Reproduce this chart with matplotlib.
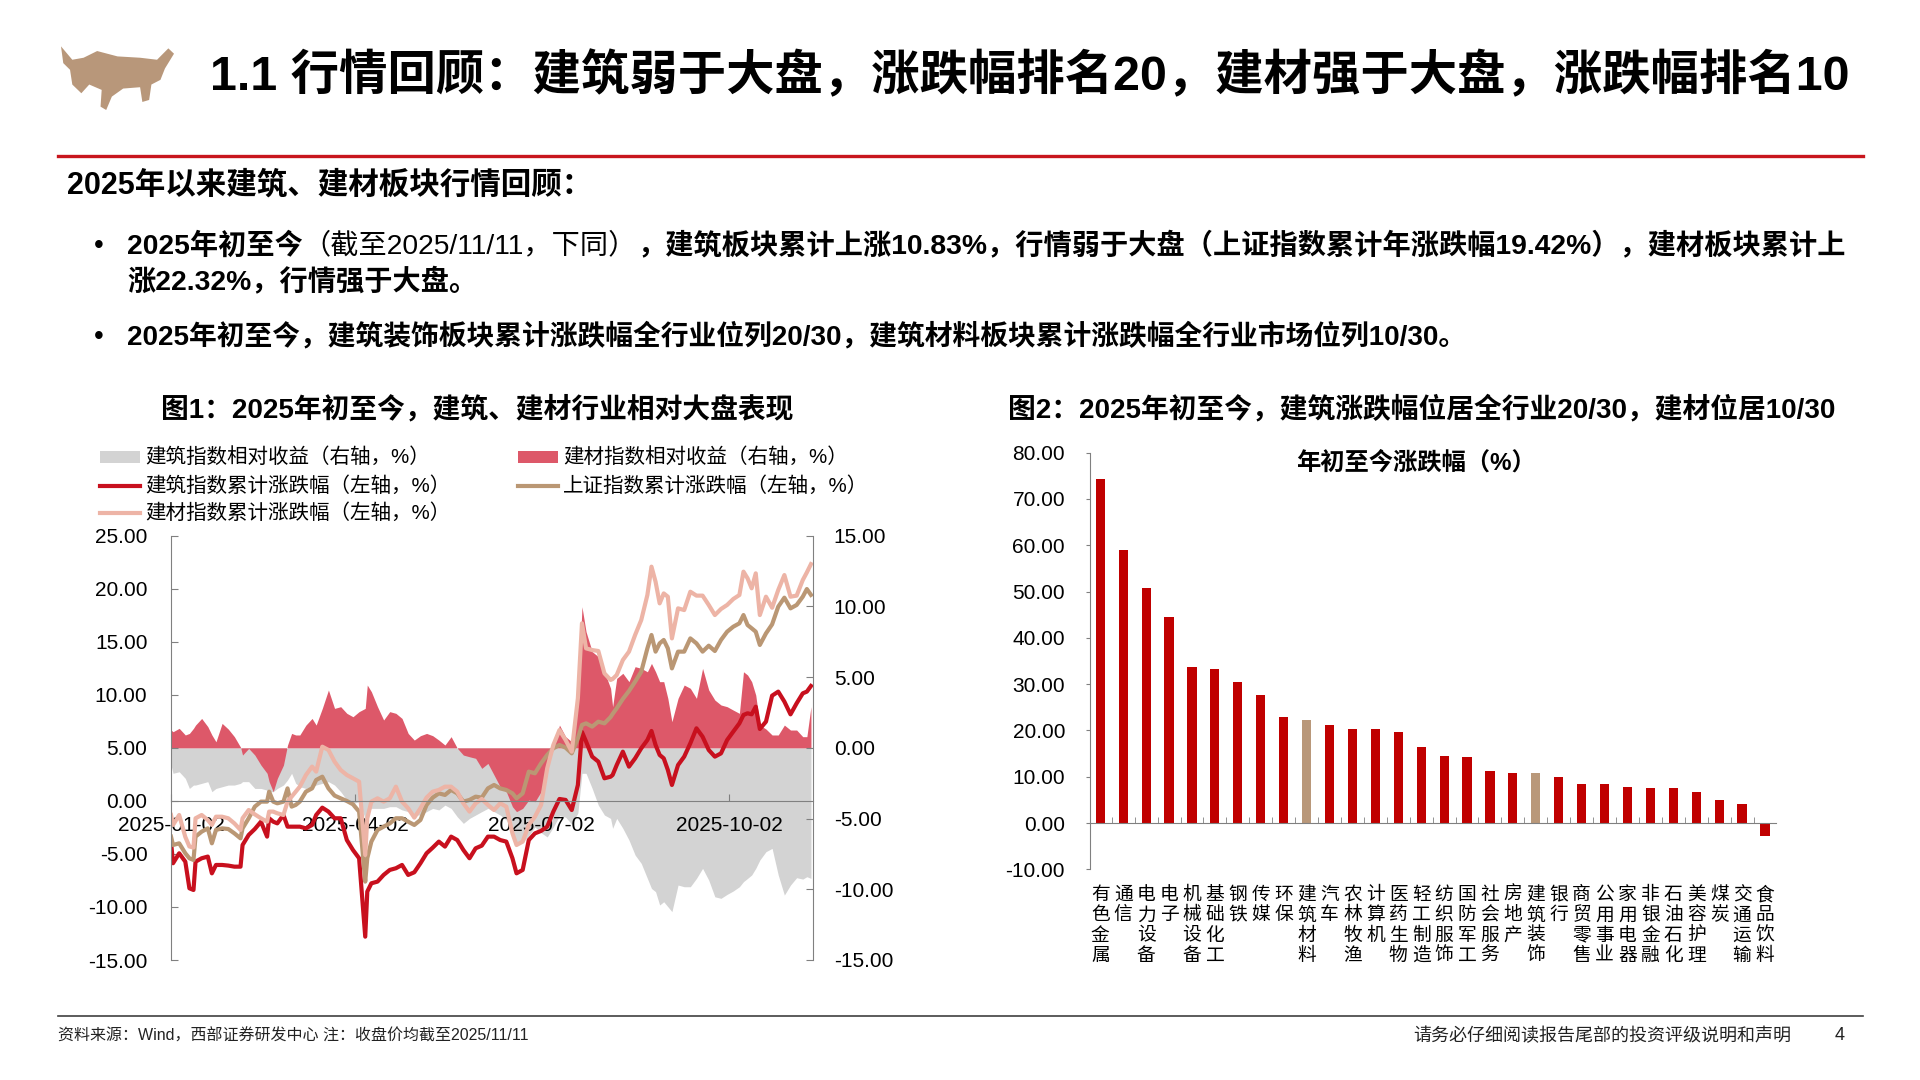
import numpy as np
import pandas as pd
import matplotlib
matplotlib.use("Agg")
import matplotlib.pyplot as plt
from matplotlib.lines import Line2D
from matplotlib.patches import Rectangle, Polygon

plt.rcParams['font.family'] = ['Liberation Sans', 'Noto Sans CJK SC']

# ---------------- data: left chart (cumulative / relative returns, %) ----------------
dates = [
    "2025-01-02", "2025-01-03", "2025-01-06", "2025-01-09", "2025-01-11", "2025-01-13", "2025-01-14",
    "2025-01-17", "2025-01-20", "2025-01-22", "2025-01-24", "2025-01-27", "2025-01-30",
    "2025-02-02", "2025-02-05", "2025-02-06", "2025-02-09", "2025-02-12", "2025-02-15", "2025-02-18",
    "2025-02-19", "2025-02-21", "2025-02-23", "2025-02-26", "2025-02-28",
    "2025-03-02", "2025-03-04", "2025-03-06", "2025-03-09", "2025-03-12", "2025-03-14", "2025-03-17",
    "2025-03-20", "2025-03-23", "2025-03-26", "2025-03-29",
    "2025-04-01", "2025-04-04", "2025-04-07", "2025-04-08", "2025-04-10", "2025-04-13", "2025-04-16",
    "2025-04-19", "2025-04-22", "2025-04-25", "2025-04-28",
    "2025-05-01", "2025-05-04", "2025-05-07", "2025-05-10", "2025-05-13", "2025-05-16", "2025-05-19",
    "2025-05-22", "2025-05-25", "2025-05-28", "2025-05-31",
    "2025-06-03", "2025-06-06", "2025-06-09", "2025-06-12", "2025-06-15", "2025-06-18", "2025-06-20",
    "2025-06-23", "2025-06-26", "2025-06-29",
    "2025-07-02", "2025-07-05", "2025-07-08", "2025-07-11", "2025-07-14", "2025-07-17", "2025-07-20",
    "2025-07-22", "2025-07-24", "2025-07-27", "2025-07-30",
    "2025-08-02", "2025-08-05", "2025-08-06", "2025-08-08", "2025-08-11", "2025-08-14", "2025-08-17",
    "2025-08-20", "2025-08-23", "2025-08-25", "2025-08-27", "2025-08-29", "2025-08-31",
    "2025-09-02", "2025-09-04", "2025-09-07", "2025-09-10", "2025-09-13", "2025-09-16", "2025-09-19",
    "2025-09-22", "2025-09-25", "2025-09-28",
    "2025-10-01", "2025-10-04", "2025-10-07", "2025-10-09", "2025-10-11", "2025-10-13", "2025-10-15",
    "2025-10-17", "2025-10-20", "2025-10-23", "2025-10-26", "2025-10-29",
    "2025-11-01", "2025-11-04", "2025-11-07", "2025-11-09", "2025-11-11",
]

# 建筑指数累计涨跌幅（左轴）
jz_cum = [
    -3.84, -5.88, -4.94, -5.73, -8.24, -8.40, -5.73, -5.41, -5.25, -6.83, -6.04, -6.04, -6.10,
    -6.20, -6.20, -4.16, -3.21, -2.65, -1.96, -3.37, -1.64, -1.96, -2.12, -1.33, -2.43,
    -2.43, -2.43, -2.43, -2.59, -2.27, -1.33, -0.64, -1.01, -1.64, -1.64, -3.69,
    -4.63, -5.41, -12.80, -8.55, -7.77, -7.61, -6.98, -6.51, -6.35, -6.04, -6.98,
    -6.73, -5.88, -4.94, -4.41, -3.84, -4.31, -3.37, -3.69, -4.63, -5.41, -4.47,
    -4.22, -3.37, -3.37, -3.69, -3.84, -5.41, -6.83, -6.51, -3.69, -3.06,
    -2.83, -2.43, -1.01, 0.18, 0.09, -0.86, 1.50, 6.50, 5.60, 4.17, 3.70,
    2.13, 2.28, 2.44, 3.38, 4.64, 3.23, 4.01, 4.96, 5.74, 6.59, 5.27, 4.33, 4.01,
    2.92, 1.50, 3.38, 4.17, 5.43, 6.84, 6.05, 4.80, 4.17, 4.48,
    5.74, 6.53, 7.31, 8.10, 8.26, 8.16, 8.88, 6.78, 7.47, 9.92, 10.30, 9.36,
    8.16, 9.20, 10.14, 10.30, 10.83,
]

# 上证指数累计涨跌幅（左轴）
sh_cum = [
    -3.37, -4.16, -4.00, -4.94, -5.41, -5.57, -3.37, -2.90, -2.59, -4.00, -2.74, -2.59, -2.65,
    -3.06, -3.53, -2.59, -1.64, -0.54, -0.07, -0.07, 0.87, -0.07, -0.23, -0.07, 1.18,
    -0.54, -0.38, -0.07, 0.87, 1.18, 1.97, 2.28, 1.18, 0.50, 0.24, -0.01,
    -0.32, -1.01, -7.61, -5.41, -3.84, -2.74, -2.43, -2.12, -1.64, -1.64, -1.96,
    -2.27, -1.80, -0.38, 0.31, 0.71, 0.56, 1.03, 0.71, -0.07, 0.09, 0.40,
    0.31, 1.18, 1.50, 1.18, 1.03, 0.71, 0.24, 0.71, 2.76, 2.60,
    3.54, 4.33, 4.96, 5.27, 5.02, 4.48, 5.90, 7.16, 7.31, 7.00, 7.47,
    7.31, 7.90, 8.20, 8.73, 9.61, 10.36, 11.24, 12.18, 14.38, 15.64, 14.07, 14.85, 15.17,
    14.38, 12.49, 14.07, 14.07, 15.32, 14.85, 14.07, 14.63, 14.13, 15.17,
    15.95, 16.42, 16.74, 17.52, 16.58, 16.27, 15.95, 14.70, 15.79, 16.64, 18.31, 19.16,
    18.15, 18.47, 19.25, 19.97, 19.42,
]

# 建材指数累计涨跌幅（左轴）
jc_cum = [
    -1.33, -2.27, -1.33, -3.40, -4.30, -4.40, -1.64, -1.33, -1.80, -2.27, -1.49, -1.49, -1.64,
    -2.12, -2.74, -1.64, -0.86, -1.27, -1.64, -1.96, -1.01, -1.01, -1.17, -1.33, -0.07,
    0.40, 0.87, 1.34, 2.44, 3.23, 2.76, 5.11, 4.80, 3.70, 2.91, 2.44,
    2.13, 1.81, -5.10, -1.64, -0.07, 0.24, -0.07, 0.24, 1.34, -0.07, -0.70,
    -1.58, -0.70, 0.31, 0.87, 1.03, 1.34, 1.34, 0.87, -0.23, -1.01, -0.23,
    0.18, -0.38, -0.86, -0.23, -0.54, -3.06, -4.16, -3.84, -2.27, -1.49,
    -0.38, 3.07, 5.27, 6.68, 5.74, 4.64, 9.67, 16.74, 14.38, 14.22, 14.13,
    12.02, 11.40, 11.49, 11.87, 13.28, 14.07, 15.64, 17.05, 19.41, 22.08, 20.66, 18.62, 19.56,
    19.25, 15.32, 18.15, 17.99, 19.72, 19.35, 19.35, 18.47, 17.52, 18.09,
    18.47, 19.03, 19.41, 21.61, 20.98, 20.04, 21.45, 17.52, 19.25, 18.21, 19.88, 21.29,
    19.25, 19.35, 20.82, 21.54, 22.32,
]

# 建筑指数相对收益（右轴）
jz_rel = [
    -1.20, -1.80, -1.69, -2.16, -2.87, -2.63, -2.63, -2.51, -2.39, -3.10, -2.87, -2.75, -2.63,
    -2.63, -2.51, -2.39, -2.39, -2.87, -2.87, -2.99, -3.10, -3.10, -2.87, -2.63, -2.27,
    -1.80, -2.51, -2.75, -2.87, -2.75, -2.63, -2.51, -2.39, -2.63, -3.10, -3.69,
    -3.93, -3.81, -4.99, -4.51, -4.28, -4.28, -4.28, -4.16, -4.16, -4.39, -4.51,
    -4.75, -4.75, -4.51, -4.28, -4.39, -4.05, -4.28, -4.87, -5.34, -4.99, -4.75,
    -4.51, -4.28, -4.51, -4.75, -5.10, -5.93, -6.90, -6.70, -6.20, -5.60,
    -6.00, -6.30, -5.60, -4.80, -4.90, -5.40, -4.60, -1.80, -1.80, -2.87, -4.05,
    -4.75, -4.99, -5.69, -4.99, -5.69, -6.52, -7.58, -8.17, -9.23, -9.94, -10.17, -11.11, -10.88,
    -11.23, -11.58, -9.70, -9.82, -9.82, -9.23, -8.52, -9.35, -10.53, -10.64,
    -10.36, -10.12, -9.82, -9.46, -9.23, -8.99, -8.52, -7.93, -7.34, -7.11, -8.99, -10.41,
    -9.70, -9.18, -9.28, -9.11, -9.23,
]

# 建材指数相对收益（右轴）
jc_rel = [
    1.26, 1.14, 1.38, 0.91, 1.02, 1.38, 1.61, 2.08, 1.50, 0.91, 0.43, 1.73, 1.33,
    0.79, 0.05, -0.51, -0.04, -0.51, -1.22, -1.80, -2.39, -3.10, -2.16, -1.22, 0.20,
    1.02, 0.91, 0.91, 1.61, 2.08, 1.61, 2.79, 4.09, 2.79, 2.91, 2.44,
    2.20, 2.56, 2.79, 4.44, 3.97, 2.91, 1.97, 2.56, 2.44, 2.08, 1.02,
    0.55, 0.86, 1.02, 0.86, 0.55, 0.20, 0.79, -0.02, -0.51, -0.63, -0.74,
    -1.45, -1.10, -1.92, -2.75, -3.10, -4.16, -4.51, -4.28, -3.69, -3.81,
    -3.10, -1.22, -0.04, 1.61, 0.79, 0.43, 3.00, 9.98, 8.21, 6.80, 6.45,
    5.38, 4.21, 2.91, 4.91, 5.27, 4.68, 5.74, 5.62, 5.38, 5.97, 5.38, 4.68, 4.68,
    3.50, 1.85, 3.50, 4.44, 4.21, 3.50, 5.62, 4.09, 3.38, 3.03,
    2.91, 2.67, 2.44, 5.38, 5.15, 4.68, 3.73, 1.61, 1.33, 0.91, 0.91, 1.61,
    1.26, 1.26, 0.79, 0.79, 2.91,
]

xtick_dates = ["2025-01-02", "2025-04-02", "2025-07-02", "2025-10-02"]

legend_labels = ["建筑指数相对收益（右轴，%）", "建材指数相对收益（右轴，%）",
                 "建筑指数累计涨跌幅（左轴，%）", "上证指数累计涨跌幅（左轴，%）",
                 "建材指数累计涨跌幅（左轴，%）"]

# ---------------- data: right chart (年初至今涨跌幅, %) ----------------
industries = ["有色金属", "通信", "电力设备", "电子", "机械设备", "基础化工", "钢铁", "传媒",
              "环保", "建筑材料", "汽车", "农林牧渔", "计算机", "医药生物", "轻工制造", "纺织服饰",
              "国防军工", "社会服务", "房地产", "建筑装饰", "银行", "商贸零售", "公用事业",
              "家用电器", "非银金融", "石油石化", "美容护理", "煤炭", "交通运输", "食品饮料"]
ytd = [74.3, 58.9, 50.7, 44.6, 33.7, 33.2, 30.4, 27.6, 22.8, 22.32, 21.2, 20.4, 20.4, 19.6,
       16.5, 14.4, 14.2, 11.2, 10.8, 10.83, 9.9, 8.4, 8.4, 7.8, 7.6, 7.6, 6.8, 5.0, 4.0, -2.9]
highlight = ["建筑材料", "建筑装饰"]

# ---------------- colours ----------------
RED_LINE = "#C8101E"
TAN = "#BA9774"
PINK = "#EDB4A6"
RED_AREA = "#DD5869"
GREY_AREA = "#D3D3D3"
BAR_RED = "#C00000"
BAR_TAN = "#B9987A"
AXIS_GREY = "#808080"

W, H = 1920, 1080
fig = plt.figure(figsize=(19.2, 10.8), dpi=100)
renderer = fig.canvas.get_renderer()


def fx(px):
    return px / W


def fy(py):
    return 1 - py / H


# ---------------- header ----------------
bull = [(0.00, 0.05), (0.10, 0.25), (0.20, 0.22), (0.32, 0.12), (0.50, 0.20), (0.70, 0.22),
        (0.85, 0.25), (0.95, 0.08), (1.00, 0.16), (0.92, 0.38), (0.88, 0.55), (0.80, 0.62),
        (0.78, 0.85), (0.72, 0.88), (0.70, 0.66), (0.55, 0.68), (0.45, 0.80), (0.40, 1.00),
        (0.35, 0.95), (0.36, 0.70), (0.25, 0.62), (0.18, 0.75), (0.10, 0.62), (0.08, 0.40),
        (0.02, 0.30)]
bx0, by0, bw, bh = 61, 43, 113, 67
fig.patches.append(Polygon([(fx(bx0 + u * bw), fy(by0 + v * bh)) for u, v in bull],
                           closed=True, transform=fig.transFigure, facecolor="#B8977A",
                           edgecolor="none"))

fig.text(fx(210), fy(76), "1.1 行情回顾：建筑弱于大盘，涨跌幅排名20，建材强于大盘，涨跌幅排名10",
         fontsize=34.8, fontweight="bold", va="center", ha="left")
fig.add_artist(Line2D([fx(57.5), fx(1862.5)], [fy(156), fy(156)], color="#C8161D", lw=2.4))

fig.text(fx(67), fy(186), "2025年以来建筑、建材板块行情回顾：", fontsize=22, fontweight="bold",
         va="center", ha="left")


def put_runs(x, y, runs, size):
    for txt, wt in runs:
        t = fig.text(fx(x), fy(y), txt, fontsize=size, fontweight=wt, va="center", ha="left")
        x += t.get_window_extent(renderer).width


fig.text(fx(94), fy(246), "•", fontsize=20, va="center", ha="left")
put_runs(127, 246, [("2025年初至今", "bold"), ("（截至2025/11/11，下同）", "normal"),
                    ("，建筑板块累计上涨10.83%，行情弱于大盘（上证指数累计年涨跌幅19.42%），建材板块累计上", "bold")], 20.3)
put_runs(127, 282, [("涨22.32%，行情强于大盘。", "bold")], 20.3)
fig.text(fx(94), fy(337), "•", fontsize=20, va="center", ha="left")
put_runs(127, 337, [("2025年初至今，建筑装饰板块累计涨跌幅全行业位列20/30，建筑材料板块累计涨跌幅全行业市场位列10/30。", "bold")], 20)

# ---------------- figure 1 ----------------
fig.text(fx(477), fy(410), "图1：2025年初至今，建筑、建材行业相对大盘表现", fontsize=20,
         fontweight="bold", va="center", ha="center")

ax1 = fig.add_axes([fx(171), fy(960), (813 - 171) / W, (960 - 535.7) / H])
ax2 = ax1.twinx()
dt = pd.to_datetime(dates)

ax2.fill_between(dt, 0, jz_rel, color=GREY_AREA, lw=0)
ax2.fill_between(dt, 0, jc_rel, color=RED_AREA, lw=0)
ax1.plot(dt, jz_cum, color=RED_LINE, lw=3.0)
ax1.plot(dt, sh_cum, color=TAN, lw=3.0)
ax1.plot(dt, jc_cum, color=PINK, lw=3.0)
ax1.set_zorder(ax2.get_zorder() + 1)
ax1.patch.set_visible(False)

ax1.set_xlim(pd.Timestamp("2025-01-02"), pd.Timestamp("2025-11-12"))
ax1.set_ylim(-15, 25)
ax2.set_ylim(-15, 15)
yl = np.arange(-15, 26, 5)
ax1.set_yticks(yl)
ax1.set_yticklabels([f"{v:.2f}" for v in yl])
yr = np.arange(-15, 16, 5)
ax2.set_yticks(yr)
ax2.set_yticklabels([f"{v:.2f}" for v in yr])
ax1.set_xticks(pd.to_datetime(xtick_dates))
ax1.set_xticklabels(xtick_dates)

for s in ["top", "right"]:
    ax1.spines[s].set_visible(False)
ax1.spines["left"].set_color(AXIS_GREY)
ax1.spines["bottom"].set_position(("data", 0))
ax1.spines["bottom"].set_color(AXIS_GREY)
for s in ["top", "left", "bottom"]:
    ax2.spines[s].set_visible(False)
ax2.spines["right"].set_color(AXIS_GREY)

ax1.tick_params(axis="y", direction="in", length=5, color=AXIS_GREY, pad=17, labelsize=15)
ax1.tick_params(axis="x", direction="in", length=5, color=AXIS_GREY, pad=11, labelsize=15)
ax2.tick_params(axis="y", direction="in", length=5, color=AXIS_GREY, pad=15, labelsize=15)

# legend, laid out as in the report
leg_items = [
    ("patch", GREY_AREA, 100, 457),
    ("patch", RED_AREA, 518, 457),
    ("line", RED_LINE, 100, 486),
    ("line", TAN, 518, 486),
    ("line", PINK, 100, 513),
]
for (kind, col, lx, ly), lab in zip(leg_items, legend_labels):
    if kind == "patch":
        fig.patches.append(Rectangle((fx(lx), fy(ly + 6)), 40 / W, 12 / H,
                                     transform=fig.transFigure, facecolor=col, edgecolor="none"))
    else:
        fig.add_artist(Line2D([fx(lx), fx(lx + 40)], [fy(ly), fy(ly)], color=col, lw=3.0))
    fig.text(fx(lx + 45), fy(ly), lab, fontsize=14.8, va="center", ha="left")

# ---------------- figure 2 ----------------
fig.text(fx(1008), fy(410), "图2：2025年初至今，建筑涨跌幅位居全行业20/30，建材位居10/30",
         fontsize=20, fontweight="bold", va="center", ha="left")

ax3 = fig.add_axes([fx(1090), fy(869.3), (1776 - 1090) / W, (869.3 - 452.7) / H])
xpos = np.arange(len(industries))
bar_colors = [BAR_TAN if n in highlight else BAR_RED for n in industries]
ax3.bar(xpos, ytd, width=0.4, color=bar_colors)
ax3.set_xlim(-0.45, 29.48)
ax3.set_ylim(-10, 80)
yb = np.arange(-10, 81, 10)
ax3.set_yticks(yb)
ax3.set_yticklabels([f"{v:.2f}" for v in yb])
ax3.set_xticks(xpos)
ax3.set_xticklabels(["\n".join(n) for n in industries])
ax3.set_xticks(xpos[:-1] + 0.5, minor=True)
for s in ["top", "right"]:
    ax3.spines[s].set_visible(False)
ax3.spines["left"].set_color(AXIS_GREY)
ax3.spines["bottom"].set_position(("data", 0))
ax3.spines["bottom"].set_color(AXIS_GREY)
ax3.tick_params(axis="y", direction="out", length=3, color=AXIS_GREY, pad=15, labelsize=15)
ax3.tick_params(axis="x", which="major", length=0, pad=44, labelsize=13.5)
ax3.tick_params(axis="x", which="minor", direction="in", length=4, color=AXIS_GREY)
for t in ax3.get_xticklabels():
    t.set_family(["Noto Sans CJK SC"])
    t.set_fontsize(13.5)
    t.set_linespacing(0.95)
ax3.text(0.475, 0.976, "年初至今涨跌幅（%）", transform=ax3.transAxes, fontsize=17.5,
         fontweight="bold", ha="center", va="center")

# ---------------- footer ----------------
fig.add_artist(Line2D([fx(57.5), fx(1862.5)], [fy(1015.7), fy(1015.7)], color="#404040", lw=1.2))
fig.text(fx(57.5), fy(1036), "资料来源：Wind，西部证券研发中心 注：收盘价均截至2025/11/11",
         fontsize=11.5, va="center", ha="left", color="#222222")
fig.text(fx(1791), fy(1036), "请务必仔细阅读报告尾部的投资评级说明和声明", fontsize=13,
         va="center", ha="right", color="#222222")
fig.text(fx(1840), fy(1036), "4", fontsize=13, va="center", ha="center", color="#222222")

fig.savefig("out.png", dpi=100)
